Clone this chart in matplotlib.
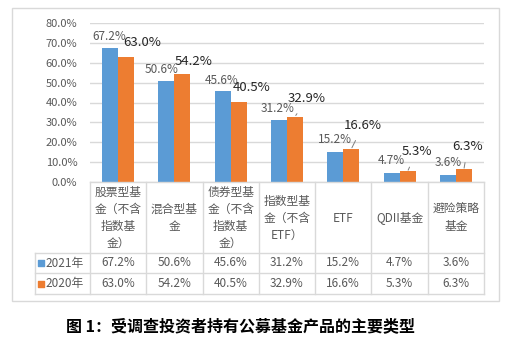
import matplotlib

matplotlib.use("Agg")
import matplotlib.pyplot as plt
from matplotlib.patches import Rectangle

plt.rcParams["font.family"] = ["Noto Sans CJK SC", "DejaVu Sans"]

CATEGORIES = [
    "股票型基\n金（不含\n指数基\n金）",
    "混合型基\n金",
    "债券型基\n金（不含\n指数基\n金）",
    "指数型基\n金（不含\nETF）",
    "ETF",
    "QDII基金",
    "避险策略\n基金",
]
SERIES_NAMES = ["2021年", "2020年"]
VALUES_2021 = [67.2, 50.6, 45.6, 31.2, 15.2, 4.7, 3.6]
VALUES_2020 = [63.0, 54.2, 40.5, 32.9, 16.6, 5.3, 6.3]
Y_TICKS = [0, 10, 20, 30, 40, 50, 60, 70, 80]
CAPTION = "图 1：受调查投资者持有公募基金产品的主要类型"

BLUE = "#5B9BD5"
ORANGE = "#ED7D31"
GRID = "#d9d9d9"
TEXT = "#595959"

# label offsets in pixels (dx, dy) relative to the bar top
OFFSETS_2021 = [(-1, 12), (-5, 12), (-1, 11), (-1, 11), (0, 12), (0, 12), (0, 12)]
OFFSETS_2020 = [(16, 14), (11, 13), (13, 14), (12, 18), (12, 24), (9, 20), (4, 23)]
LEADER_2020 = [False, False, False, True, True, True, True]

W, H = 512, 341
DPI = 100
PX = 72 / DPI  # points per pixel


def px_box(x0, y0, x1, y1):
    return [x0 / W, 1 - y1 / H, (x1 - x0) / W, (y1 - y0) / H]


def fmt(v):
    return f"{v:.1f}%"


def main():
    fig = plt.figure(figsize=(W / DPI, H / DPI), dpi=DPI)

    # outer chart border
    fig.patches.append(Rectangle((12 / W, 1 - 301 / H), 487 / W, 293 / H,
                                 transform=fig.transFigure, fill=False,
                                 edgecolor=GRID, linewidth=1))

    ax = fig.add_axes(px_box(90, 23, 484, 182))
    n = len(CATEGORIES)
    x = list(range(n))
    width = 0.284
    bars_a = ax.bar([i - width / 2 for i in x], VALUES_2021, width, color=BLUE, zorder=3)
    bars_b = ax.bar([i + width / 2 for i in x], VALUES_2020, width, color=ORANGE, zorder=3)

    ax.set_xlim(-0.5, n - 0.5)
    ax.set_ylim(0, 80)
    ax.set_yticks(Y_TICKS)
    ax.set_yticklabels([fmt(t) for t in Y_TICKS], color=TEXT, fontsize=8)
    ax.set_xticks([])
    ax.tick_params(axis="y", length=0, pad=9)
    ax.grid(axis="y", color=GRID, linewidth=1, zorder=0)
    for side in ax.spines.values():
        side.set_visible(False)

    for bar, v, (dx, dy) in zip(bars_a, VALUES_2021, OFFSETS_2021):
        ax.annotate(fmt(v), xy=(bar.get_x() + bar.get_width() / 2, v),
                    xytext=(dx * PX, dy * PX), textcoords="offset points",
                    ha="center", va="center", fontsize=8.5, color=TEXT)
    for bar, v, (dx, dy), lead in zip(bars_b, VALUES_2020, OFFSETS_2020, LEADER_2020):
        arrow = None
        if lead:
            arrow = dict(arrowstyle="-", color="#7f7f7f", lw=0.7, shrinkA=5, shrinkB=1)
        ax.annotate(fmt(v), xy=(bar.get_x() + bar.get_width() / 2, v),
                    xytext=(dx * PX, dy * PX), textcoords="offset points",
                    ha="center", va="center", fontsize=9.5, color="#262626",
                    arrowprops=arrow)

    # data table below the plot
    tab = fig.add_axes(px_box(35, 182, 484, 294))
    left = -0.5 - 55 / 56.3
    tab.set_xlim(left, n - 0.5)
    tab.set_ylim(112, 0)
    tab.axis("off")
    lk = dict(color=GRID, linewidth=1, clip_on=False)
    tab.plot([-0.5, n - 0.5], [0, 0], **lk)
    for k in range(n + 1):
        tab.plot([k - 0.5, k - 0.5], [0, 112], **lk)
    tab.plot([left, left], [71, 112], **lk)
    for yy in (71, 91, 112):
        tab.plot([left, n - 0.5], [yy, yy], **lk)

    for i, label in enumerate(CATEGORIES):
        tab.text(i, 36, label, ha="center", va="center", fontsize=8.5,
                 color=TEXT, linespacing=1.4)
        tab.text(i, 81, fmt(VALUES_2021[i]), ha="center", va="center",
                 fontsize=8.5, color=TEXT)
        tab.text(i, 101.5, fmt(VALUES_2020[i]), ha="center", va="center",
                 fontsize=8.5, color=TEXT)

    for name, color, yy in zip(SERIES_NAMES, (BLUE, ORANGE), (81, 101.5)):
        tab.scatter([left + 6.5 / 56.3], [yy], marker="s", s=16, color=color, clip_on=False)
        tab.text(left + 10 / 56.3, yy, name, ha="left", va="center",
                 fontsize=8.5, color=TEXT)

    fig.text(240 / W, 1 - 326 / H, CAPTION, ha="center", va="center",
             fontsize=11.5, fontweight="bold", color="black")

    fig.savefig("out.png", dpi=DPI)
    plt.close(fig)


if __name__ == "__main__":
    main()
